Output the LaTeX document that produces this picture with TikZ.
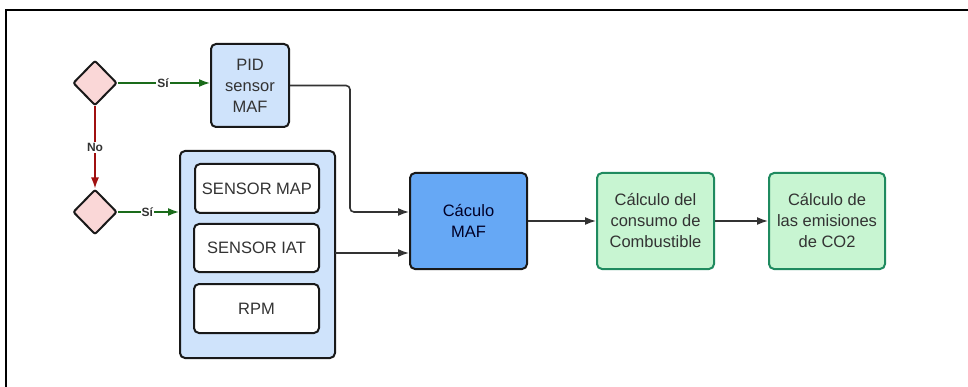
\documentclass[tikz,border=0pt]{standalone}
\usepackage{fontspec}
\setmainfont{Liberation Sans}
\usetikzlibrary{shapes.geometric,arrows.meta}
\definecolor{lblue}{HTML}{CFE3FB}
\definecolor{mblue}{HTML}{66A8F5}
\definecolor{lgreen}{HTML}{C8F5D2}
\definecolor{bgreen}{HTML}{1F8A5F}
\definecolor{pinkf}{HTML}{FAD7D7}
\definecolor{txtg}{HTML}{333333}
\definecolor{arrg}{HTML}{1A6B1A}
\definecolor{arrr}{HTML}{A01010}
\begin{document}
\begin{tikzpicture}[x=1pt,y=-1pt,
  box/.style={draw=black!90, line width=2pt, rounded corners=5pt, fill=lblue, align=center,
    font=\fontsize{16.5}{21}\selectfont, text=txtg, inner sep=0pt},
  gbox/.style={box, draw=bgreen, fill=lgreen},
  dia/.style={diamond, draw=black!90, line width=2pt, fill=pinkf, rounded corners=2pt,
    minimum width=44pt, minimum height=45pt, inner sep=0pt},
  conn/.style={draw=txtg, line width=1.6pt, -{Latex[length=11pt,width=8pt]}},
  lab/.style={fill=white, inner sep=1pt, font=\fontsize{12}{13}\selectfont\bfseries, text=txtg}
]
\useasboundingbox (0,0) rectangle (968,387);
\draw[line width=1.2pt] (6,387) -- (6,10) -- (968,10);

\node[dia] (d1) at (95,83) {};
\node[dia] (d2) at (95,212) {};

\node[box, minimum width=78pt, minimum height=83pt] (pid) at (250,85.5) {PID\\sensor\\MAF};
\node[box, minimum width=155pt, minimum height=207pt] (grp) at (257.5,254.5) {};
\node[box, fill=white, minimum width=124pt, minimum height=49pt] (map) at (257,188.5) {SENSOR MAP};
\node[box, fill=white, minimum width=125pt, minimum height=48pt] (iat) at (256.5,248) {SENSOR IAT};
\node[box, fill=white, minimum width=125pt, minimum height=49pt] (rpm) at (256.5,308.5) {RPM};

\node[box, fill=mblue, text=black!85!blue, minimum width=117pt, minimum height=96pt] (maf) at (468.5,221) {Cáculo\\MAF};
\node[gbox, minimum width=117pt, minimum height=96pt] (g1) at (655.5,221) {Cálculo del\\consumo de\\Combustible};
\node[gbox, minimum width=116pt, minimum height=96pt] (g2) at (827,221) {Cálculo de\\las emisiones\\de CO2};

\draw[conn, draw=arrg] (d1.east) -- node[lab, pos=0.49] {Sí} (d1.east -| pid.west);
\draw[conn, draw=arrr] (d1.south) -- node[lab] {No} (d2.north);
\draw[conn, draw=arrg] (d2.east) -- node[lab, pos=0.48] {Sí} (d2.east -| grp.west);

\coordinate (j1) at (350,212);
\draw[conn, rounded corners=4pt] (pid.east) -| (j1) -- (j1 -| maf.west);
\coordinate (j2) at (335,253);
\draw[conn] (j2) -- (j2 -| maf.west);
\draw[conn] (maf.east) -- (g1.west);
\draw[conn] (g1.east) -- (g2.west);
\end{tikzpicture}
\end{document}
